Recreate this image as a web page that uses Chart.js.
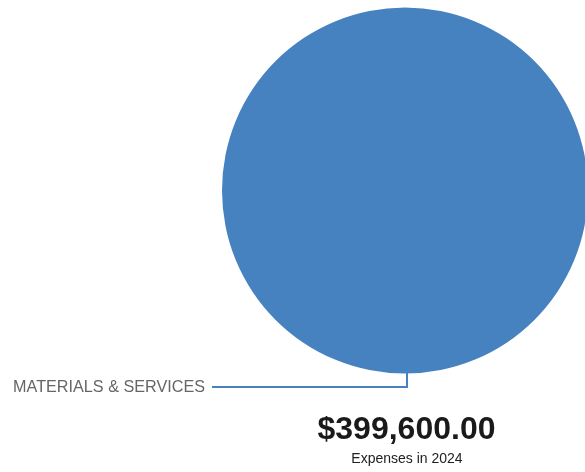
<!DOCTYPE html>
<html>
<head>
<meta charset="utf-8">
<script src="https://cdn.jsdelivr.net/npm/chart.js@4/dist/chart.umd.min.js"></script>
<style>
  html, body { margin: 0; padding: 0; background: #fff; overflow: hidden; }
  #wrap { width: 600px; height: 472px; }
</style>
</head>
<body>
<div id="wrap"><canvas id="expenseChart" width="600" height="472"></canvas></div>
<script>
// chart data
const categories = ['MATERIALS & SERVICES'];
const amounts = [399600];
const sliceColors = ['#4782c0'];
const caption = 'Expenses in 2024';

const money = v => '$' + v.toLocaleString('en-US', { minimumFractionDigits: 2, maximumFractionDigits: 2 });

// callout label + total underneath the pie
const calloutPlugin = {
    id: 'callout',
    afterDatasetsDraw(chart) {
        const ctx = chart.ctx;
        const arc = chart.getDatasetMeta(0).data[0];
        const cx = arc.x, cy = arc.y, r = arc.outerRadius;
        const lineY = 387;
        const lineX = cx + 2;

        ctx.save();
        ctx.strokeStyle = sliceColors[0];
        ctx.lineWidth = 2;
        ctx.beginPath();
        ctx.moveTo(lineX, cy + r - 2);
        ctx.lineTo(lineX, lineY);
        ctx.lineTo(212, lineY);
        ctx.stroke();

        ctx.fillStyle = '#666';
        ctx.font = '16.2px "Liberation Sans", Arial, sans-serif';
        ctx.textAlign = 'right';
        ctx.textBaseline = 'alphabetic';
        ctx.fillText(categories[0], 205, 392);

        const total = amounts.reduce((a, b) => a + b, 0);
        ctx.textAlign = 'center';
        ctx.fillStyle = '#1a1a1a';
        ctx.font = 'bold 32px "Liberation Sans", Arial, sans-serif';
        ctx.fillText(money(total), 406.5, 439);

        ctx.fillStyle = '#222';
        ctx.font = '14px "Liberation Sans", Arial, sans-serif';
        ctx.fillText(caption, 407, 463);
        ctx.restore();
    }
};

const ctx = document.getElementById('expenseChart').getContext('2d');
new Chart(ctx, {
    type: 'pie',
    data: {
        labels: categories,
        datasets: [{
            data: amounts,
            backgroundColor: sliceColors,
            borderWidth: 0
        }]
    },
    options: {
        responsive: false,
        animation: false,
        layout: { padding: { left: 222, right: 12, top: 7, bottom: 98 } },
        plugins: {
            legend: { display: false },
            tooltip: { enabled: false }
        }
    },
    plugins: [calloutPlugin]
});
</script>
</body>
</html>
